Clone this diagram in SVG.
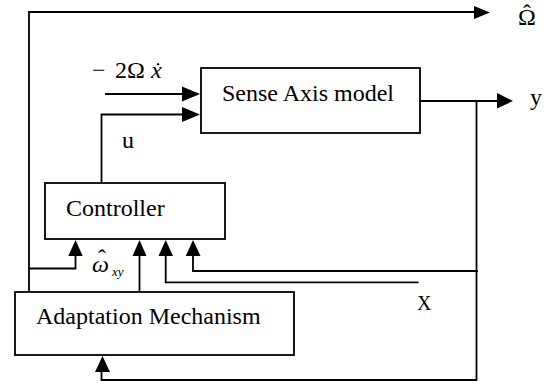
<svg xmlns="http://www.w3.org/2000/svg" width="550" height="385" viewBox="0 0 550 385">
<defs>
<style>
.box{fill:#fff;stroke:#000;stroke-width:1.8}
.ln{fill:none;stroke:#000;stroke-width:1.8}
.ah{fill:#000;stroke:none}
text{font-family:"Liberation Serif","Times New Roman",serif;fill:#000}
.t{font-size:24px}
</style>
</defs>
<rect width="550" height="385" fill="#fff"/>
<g id="connectors">
<path class="ln" d="M29,292 V12 H476"/>
<polygon class="ah" points="490,12.5 474,6 474,19"/>
<path class="ln" d="M105,94 H184"/>
<polygon class="ah" points="200,94 182,86.5 182,101.5"/>
<path class="ln" d="M101.5,183 V114.5 H184"/>
<polygon class="ah" points="200,114.5 182,107 182,122"/>
<path class="ln" d="M420,101 H498"/>
<polygon class="ah" points="513,101 497,93 497,108.5"/>
<path class="ln" d="M476.5,101 V380 H101.5 V370"/>
<polygon class="ah" points="102.5,356 95,372 110,372"/>
<path class="ln" d="M29,268.5 H75.5 V254"/>
<polygon class="ah" points="75.5,240 68.3,256 82.7,256"/>
<path class="ln" d="M139.5,292 V254"/>
<polygon class="ah" points="139.5,240 132.5,256 146.5,256"/>
<path class="ln" d="M418.5,282.3 H165.7 V254"/>
<polygon class="ah" points="165.7,240 158.5,256 173,256"/>
<path class="ln" d="M478,271 H193 V254"/>
<polygon class="ah" points="193,240 185.8,256 200.5,256"/>
</g>
<g id="sense">
<rect class="box" x="201" y="68" width="219" height="65"/>
<text class="t" x="222" y="101">Sense Axis model</text>
</g>
<g id="controller">
<rect class="box" x="45" y="183" width="180" height="56"/>
<text class="t" x="66" y="216">Controller</text>
</g>
<g id="adaptation">
<rect class="box" x="15" y="292" width="279" height="63"/>
<text class="t" x="36" y="324" font-size="23.5">Adaptation Mechanism</text>
</g>
<g id="labels">
<text class="t" x="92" y="78">− <tspan x="115">2Ω</tspan><tspan x="151" font-style="italic">ẋ</tspan></text>
<text class="t" x="122" y="148">u</text>
<text x="417" y="310" font-size="20">X</text>
<text class="t" x="530" y="105">y</text>
<text class="t" x="518" y="25">Ω<tspan x="523" y="21">ˆ</tspan></text>
<text class="t" x="92" y="272"><tspan font-style="italic">ω</tspan><tspan x="98" y="266">ˆ</tspan><tspan x="112" y="276" font-size="13" font-style="italic">xy</tspan></text>
</g>
</svg>
